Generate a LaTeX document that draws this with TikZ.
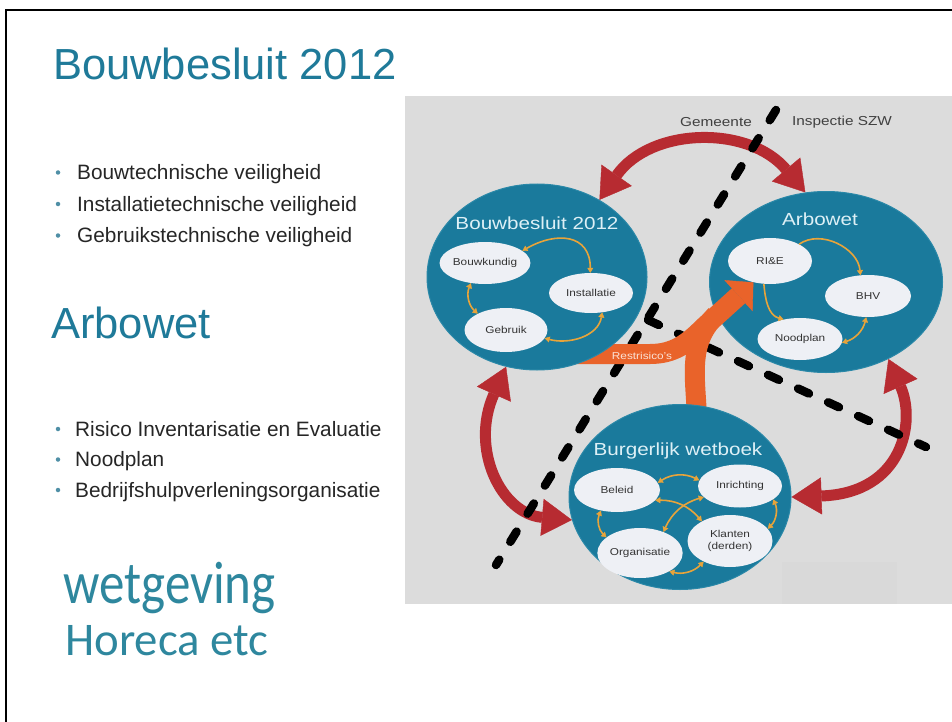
\documentclass[tikz,border=0pt]{standalone}
\usepackage{fontspec}
\usepackage{graphicx}
\setmainfont{Liberation Sans}
\newfontfamily\carlito{Carlito}
\usetikzlibrary{shapes.geometric}
\usetikzlibrary{arrows.meta}
\usetikzlibrary{backgrounds}

\definecolor{slideteal}{HTML}{1F7A99}
\definecolor{dotteal}{HTML}{4F8FA6}
\definecolor{wetteal}{HTML}{2E879E}
\definecolor{panel}{HTML}{DCDCDC}
\definecolor{panelb}{HTML}{D9D9D9}
\definecolor{circteal}{HTML}{1A7A9C}
\definecolor{circedge}{HTML}{2A88A8}
\definecolor{blobfill}{HTML}{EEF0F5}
\definecolor{blobtext}{HTML}{333333}
\definecolor{headlight}{HTML}{DDF0F6}
\definecolor{lawred}{HTML}{B72B31}
\definecolor{riskorange}{HTML}{E9632A}
\definecolor{risktext}{HTML}{FBE3D8}
\definecolor{linkgold}{HTML}{E8A43A}

\newcommand{\xstr}[1]{\scalebox{1.18}[1]{#1}}

\tikzset{redtip/.tip={Triangle[length=30pt,width=37pt,line width=0.4pt]}}
\tikzset{goldtip/.tip={Triangle[length=5pt,width=6pt,line width=0.4pt]}}
\tikzset{orangetip/.tip={Triangle[length=20pt,width=42pt,line width=0.4pt]}}
\tikzset{circ/.style={ellipse,fill=circteal,draw=circedge,line width=1pt,inner sep=0pt}}
\tikzset{blob/.style={ellipse,fill=blobfill,inner sep=0pt,text=blobtext,font=\fontsize{10}{12.5}\selectfont}}
\tikzset{head/.style={text=headlight,inner sep=0pt,font=\fontsize{17.5}{20}\selectfont}}
\tikzset{redarc/.style={draw=lawred,line width=11pt,redtip-redtip}}
\tikzset{link/.style={draw=linkgold,line width=1.6pt,goldtip-goldtip}}
\tikzset{linkone/.style={draw=linkgold,line width=1.6pt,-goldtip}}
\tikzset{band/.style={draw=riskorange,line width=20pt}}
\tikzset{split/.style={draw=black,line width=8.5pt,line cap=round,dash pattern=on 12pt off 21pt}}
\tikzset{title/.style={anchor=base west,inner sep=0pt,text=slideteal,font=\fontsize{43.5}{50}\selectfont}}
\tikzset{item/.style={anchor=base west,inner sep=0pt,text=black!85,font=\fontsize{20.8}{24}\selectfont}}
\tikzset{dot/.style={circle,fill=dotteal,inner sep=0pt,minimum size=4.5pt}}
\tikzset{extra/.style={anchor=base west,inner sep=0pt,text=wetteal}}
\tikzset{side/.style={text=black!75,inner sep=0pt,font=\fontsize{13}{15}\selectfont}}

\begin{document}
\begin{tikzpicture}[x=1pt,y=-1pt]
\useasboundingbox (0,0) rectangle (952,722);

% left side of the slide
\node[title] (t1) at (53,80) {Bouwbesluit 2012};
\foreach \t [count=\i] in {Bouwtechnische veiligheid,Installatietechnische veiligheid,Gebruikstechnische veiligheid}{
  \node[item] (a\i) at (77,{179.5+31.5*(\i-1)}) {\t};
  \node[dot] (ad\i) at (58,{172.5+31.5*(\i-1)}) {};
}
\node[title] (t2) at (51,338) {Arbowet};
\foreach \t [count=\i] in {Risico Inventarisatie en Evaluatie,Noodplan,Bedrijfshulpverleningsorganisatie}{
  \node[item] (r\i) at (75,{436+30.5*(\i-1)}) {\t};
  \node[dot] (rd\i) at (58,{429+30.5*(\i-1)}) {};
}
\node[extra,font=\carlito\fontsize{50}{56}\selectfont] (wg) at (63,603) {\scalebox{1.02}[1.2]{wetgeving}};
\node[extra,font=\carlito\fontsize{46.8}{52}\selectfont] (hc) at (65,655) {Horeca etc};

% Arbowet circle first, the orange arrow runs over it
\node[circ,minimum width=233pt,minimum height=181pt] (aw) at (826,282) {};
\node[head] (awh) at (820,219) {\xstr{Arbowet}};
\node[blob,minimum width=84pt,minimum height=46pt] (ri) at (770,261) {\xstr{RI\&E}};
\node[blob,minimum width=86pt,minimum height=42pt] (bh) at (868,296) {\xstr{BHV}};
\node[blob,minimum width=85pt,minimum height=42pt] (np) at (800,339) {\xstr{Noodplan}};

\coordinate (rs) at (575,354);
\coordinate (rj) at (704,327);
\coordinate (rk) at (716,315);
\coordinate (rb) at (697,425);
\draw[band] (rb) to[out=90,in=-135] (rk);
\draw[band,-orangetip] (rs) -- ++(75,0) to[out=0,in=-135] (rj) -- (ri.232);
\node[text=risktext,inner sep=0pt,font=\fontsize{10}{12}\selectfont] (rr) at (642,356) {\xstr{Restrisico's}};

\node[circ,minimum width=220pt,minimum height=186pt] (bb) at (537,277) {};
\node[head] (bbh) at (537,223) {\xstr{Bouwbesluit 2012}};
\node[blob,minimum width=80pt,minimum height=42pt] (bk) at (485,263) {\xstr{Bouwkundig}};
\node[blob,minimum width=84pt,minimum height=40pt] (in) at (591,293) {\xstr{Installatie}};
\node[blob,minimum width=83pt,minimum height=44pt] (gb) at (506,330) {\xstr{Gebruik}};

\node[circ,minimum width=222pt,minimum height=185pt] (bw) at (680,497) {};
\node[head] (bwh) at (678,451) {\xstr{Burgerlijk wetboek}};
\node[blob,minimum width=86pt,minimum height=44pt] (be) at (617,490) {\xstr{Beleid}};
\node[blob,minimum width=84pt,minimum height=43pt] (ir) at (740,486) {\xstr{Inrichting}};
\node[blob,minimum width=85pt,minimum height=52pt] (kl) at (730,541) {\xstr{\begin{tabular}{@{}c@{}}Klanten\\(derden)\end{tabular}}};
\node[blob,minimum width=85pt,minimum height=50pt] (og) at (640,553) {\xstr{Organisatie}};

% links inside the circles
\draw[link] (bk.18) to[out=30,in=90,looseness=1.4] (in.92);
\draw[link] (bk.235) to[bend right=35] (gb.150);
\draw[link] (gb.-12) to[out=-15,in=-100] (in.-60);

\draw[linkone] (ri.30) to[out=35,in=95] (bh.110);
\draw[linkone] (ri.255) to[out=-85,in=165] (np.130);
\draw[link] (np.-5) to[bend right=30] (bh.-95);

\draw[link] (be.10) to[bend left=30] (ir.172);
\draw[link] (be.-15) to[bend left=25] (kl.145);
\draw[link] (ir.197) to[bend right=25] (og.42);
\draw[link] (be.232) to[bend right=35] (og.155);
\draw[link] (ir.-22) to[bend left=35] (kl.18);
\draw[link] (og.-32) to[bend right=30] (kl.218);

\node[side] (gm) at (716,122) {\xstr{Gemeente}};
\node[side] (sz) at (842,122) {\xstr{Inspectie SZW}};

\begin{scope}[on background layer]
\fill[white] (0,0) rectangle (952,722);
\draw[line width=2pt] (5.5,722) -- (5.5,10) -- (952,10);
\fill[panel] (405,96) rectangle (952,604);
\fill[panelb] (782,562) rectangle (897,604);

\draw[redarc] (bb.51) to[out=55,in=130,looseness=1.1] (aw.103);
\draw[redarc] (bb.251) to[out=246,in=175,out distance=90pt,in distance=71pt] (bw.192);
\draw[redarc] (aw.309) to[out=-66,in=2,out distance=68pt,in distance=112pt] (bw.0);

\coordinate (d1a) at (776,110);
\coordinate (d1b) at (496,565);
\coordinate (d2a) at (648,320);
\coordinate (d2b) at (926,447);
\draw[split] (d1a) -- (d1b);
\draw[split] (d2a) -- (d2b);
\end{scope}

\end{tikzpicture}
\end{document}
